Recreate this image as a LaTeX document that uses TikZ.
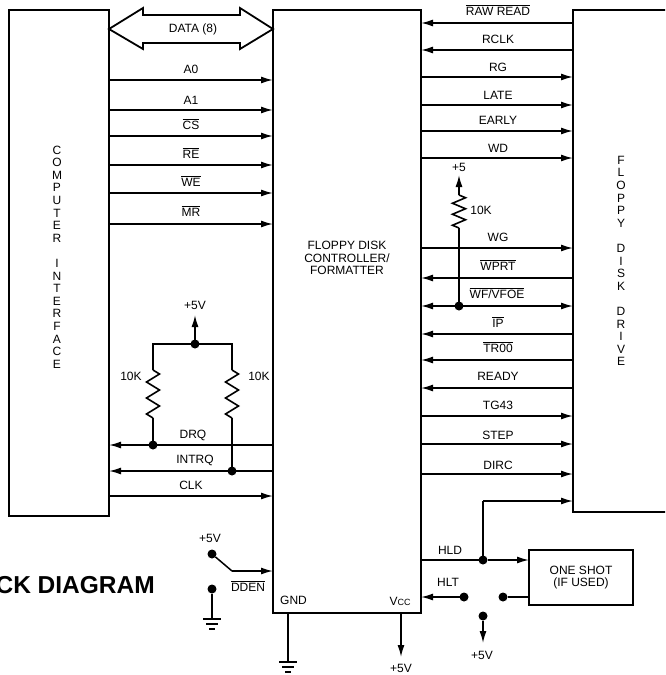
\documentclass[tikz,border=0pt]{standalone}
\usepackage{fontspec}
\setmainfont{Liberation Sans}
\usetikzlibrary{arrows.meta,decorations.pathmorphing}
\newcommand{\ovl}[1]{$\overline{\mbox{\rule{0pt}{9.6pt}#1}}$}

\begin{document}
\begin{tikzpicture}[
  x=1pt,y=-1pt,
  font=\fontsize{12}{12.6}\selectfont,
  box/.style={draw,line width=1.8pt,outer sep=0pt,inner sep=0pt,align=center},
  txt/.style={align=center,inner sep=0pt},
  dot/.style={circle,fill,inner sep=0pt,minimum size=9pt,outer sep=0pt},
  sig/.style={line width=1.5pt},
  a/.style={-{Latex[length=12pt,width=7pt]},line width=1.5pt},
  res/.style={line width=1.6pt,decorate,decoration={zigzag,amplitude=6.5pt,segment length=16pt}},
  gnd/.pic={\draw[line width=1.5pt](-9,0)--(9,0);\draw[line width=1.5pt](-6,5)--(6,5);\draw[line width=1.5pt](-3,10)--(3,10);}]
\useasboundingbox(0,0)rectangle(665,675);
\clip(0,0)rectangle(665,675);
% the three big blocks
\node[box,minimum width=100pt,minimum height=506pt](comp)at(59,263){};
\node[box,minimum width=148pt,minimum height=603pt](fdc)at(347,311.5){};
\node[box,minimum width=127pt,minimum height=502pt](fdd)at(636.5,261){};
\node[box,minimum width=104pt,minimum height=55pt](shot)at(581,577.5){ONE SHOT\\(IF USED)};
\node[txt](compname)at(57,257){C\\O\\M\\P\\U\\T\\E\\R\\[12.6pt]I\\N\\T\\E\\R\\F\\A\\C\\E};
\node[txt](fddname)at(621,261){F\\L\\O\\P\\P\\Y\\[12.6pt]D\\I\\S\\K\\[12.6pt]D\\R\\I\\V\\E};
\node[txt](fdcname)at(347,258){FLOPPY DISK\\CONTROLLER/\\FORMATTER};
\node[txt,anchor=east,font=\fontsize{24.5}{26}\selectfont\bfseries](title)at(155,585){CK DIAGRAM};
% data bus
\draw[line width=1.8pt](comp.east|-0,29)--(143,8)--(143,15)--(240,15)--(240,8)--(fdc.west|-0,29)--(240,49)--(240,43)--(143,43)--(143,49)--cycle;
\node[txt](data)at(193,29){DATA (8)};
% computer side
\foreach \y/\ly/\s in {80/69/A0,110/100/A1,136/124/\ovl{CS},165/153/\ovl{RE},193/181/\ovl{WE},224/211/\ovl{MR},496/485/CLK}{
  \draw[a](comp.east|-0,\y)--(fdc.west|-0,\y);
  \node[txt](l\y)at(191,\ly){\s};}
\draw[a](fdc.west|-0,445)--(comp.east|-0,445);
\draw[a](fdc.west|-0,471)--(comp.east|-0,471);
\node[txt](ldrq)at(193,435){DRQ};
\node[txt](lint)at(195,460){INTRQ};
% drive side
\foreach \y/\ly/\s in {77/67/RG,105/95/LATE,131/120/EARLY,158/148/WD,248/237/WG,416/405/TG43,444/435/STEP,474/465/DIRC}{
  \draw[a](fdc.east|-0,\y)--(fdd.west|-0,\y);
  \node[txt](r\y)at(498,\ly){\s};}
\foreach \y/\ly/\s in {23/10/\ovl{RAW READ},50/39/RCLK,278/265/\ovl{WPRT},334/322/\ovl{IP},360/347/\ovl{TR00},388/376/READY}{
  \draw[a](fdd.west|-0,\y)--(fdc.east|-0,\y);
  \node[txt](r\y)at(498,\ly){\s};}
\draw[a,{Latex[length=12pt,width=7pt]}-{Latex[length=12pt,width=7pt]}](fdc.east|-0,306)--(fdd.west|-0,306);
\node[txt](r306)at(497,293){\ovl{WF/VFOE}};
% pull-ups
\node[dot](jtop)at(195,344){};
\node[dot](jdrq)at(153,445){};
\node[dot](jint)at(232,471){};
\coordinate(ltop)at(153,344);\coordinate(rtop)at(232,344);
\coordinate(la)at(153,370);\coordinate(lb)at(153,418);
\coordinate(ra)at(232,370);\coordinate(rb)at(232,418);
\node[txt](plus)at(195,305){+5V};
\coordinate(tip)at(195,315);
\draw[a](jtop)--(tip);
\draw[sig](la)--(ltop)--(rtop)--(ra);
\draw[res](la)--(lb);\draw[res](ra)--(rb);
\draw[sig](lb)--(jdrq);\draw[sig](rb)--(jint);
\node[txt](k1)at(131,376){10K};
\node[txt](k2)at(259,376){10K};
\node[dot](jwf)at(459,306){};
\coordinate(wa)at(459,195);\coordinate(wb)at(459,228);\coordinate(wtip)at(459,175);
\draw[a](wa)--(wtip);
\draw[res,decoration={segment length=11pt}](wa)--(wb);
\draw[sig](wb)--(jwf);
\node[txt](plusw)at(459,167){+5};
\node[txt](k3)at(481,210){10K};
% density select
\node[txt](plusd)at(210,538){+5V};
\node[dot](dhi)at(212,554){};
\node[dot](dlo)at(212,589){};
\coordinate(dk)at(232,571);
\draw[sig](dhi)--(dk);
\draw[a](dk)--(fdc.west|-dk);
\node[txt](dden)at(248,586){\ovl{DDEN}};
\coordinate(gl)at(212,619);
\draw[sig](dlo)--(gl);
\pic at(gl){gnd};
% bottom of controller
\node[txt,anchor=west](gndt)at(280,600){GND};
\node[txt](vcc)at(400,601){V{\fontsize{9}{9}\selectfont CC}};
\coordinate(gb)at(288,662);
\draw[sig](fdc.south-|gb)--(gb);
\pic at(gb){gnd};
\coordinate(vb)at(401,657);
\draw[a](fdc.south-|vb)--(vb);
\node[txt](plusv)at(401,668.5){+5V};
% head load
\node[dot](jhld)at(483,560){};
\coordinate(hk)at(483,501);
\draw[sig](fdc.east|-jhld)--(jhld);
\draw[a](jhld)--(shot.west|-jhld);
\draw[sig](jhld)--(hk);
\draw[a](hk)--(fdd.west|-hk);
\node[txt](lhld)at(450,550){HLD};
\node[dot](hlt)at(464,597){};
\node[dot](hs)at(503,597){};
\node[dot](hv)at(483,616){};
\coordinate(hvb)at(483,643);
\draw[a](hlt)--(fdc.east|-hlt);
\draw[sig](hs)--(shot.west|-hs);
\draw[a](hv)--(hvb);
\node[txt](lhlt)at(448,582){HLT};
\node[txt](plush)at(482,655){+5V};
\end{tikzpicture}
\end{document}
